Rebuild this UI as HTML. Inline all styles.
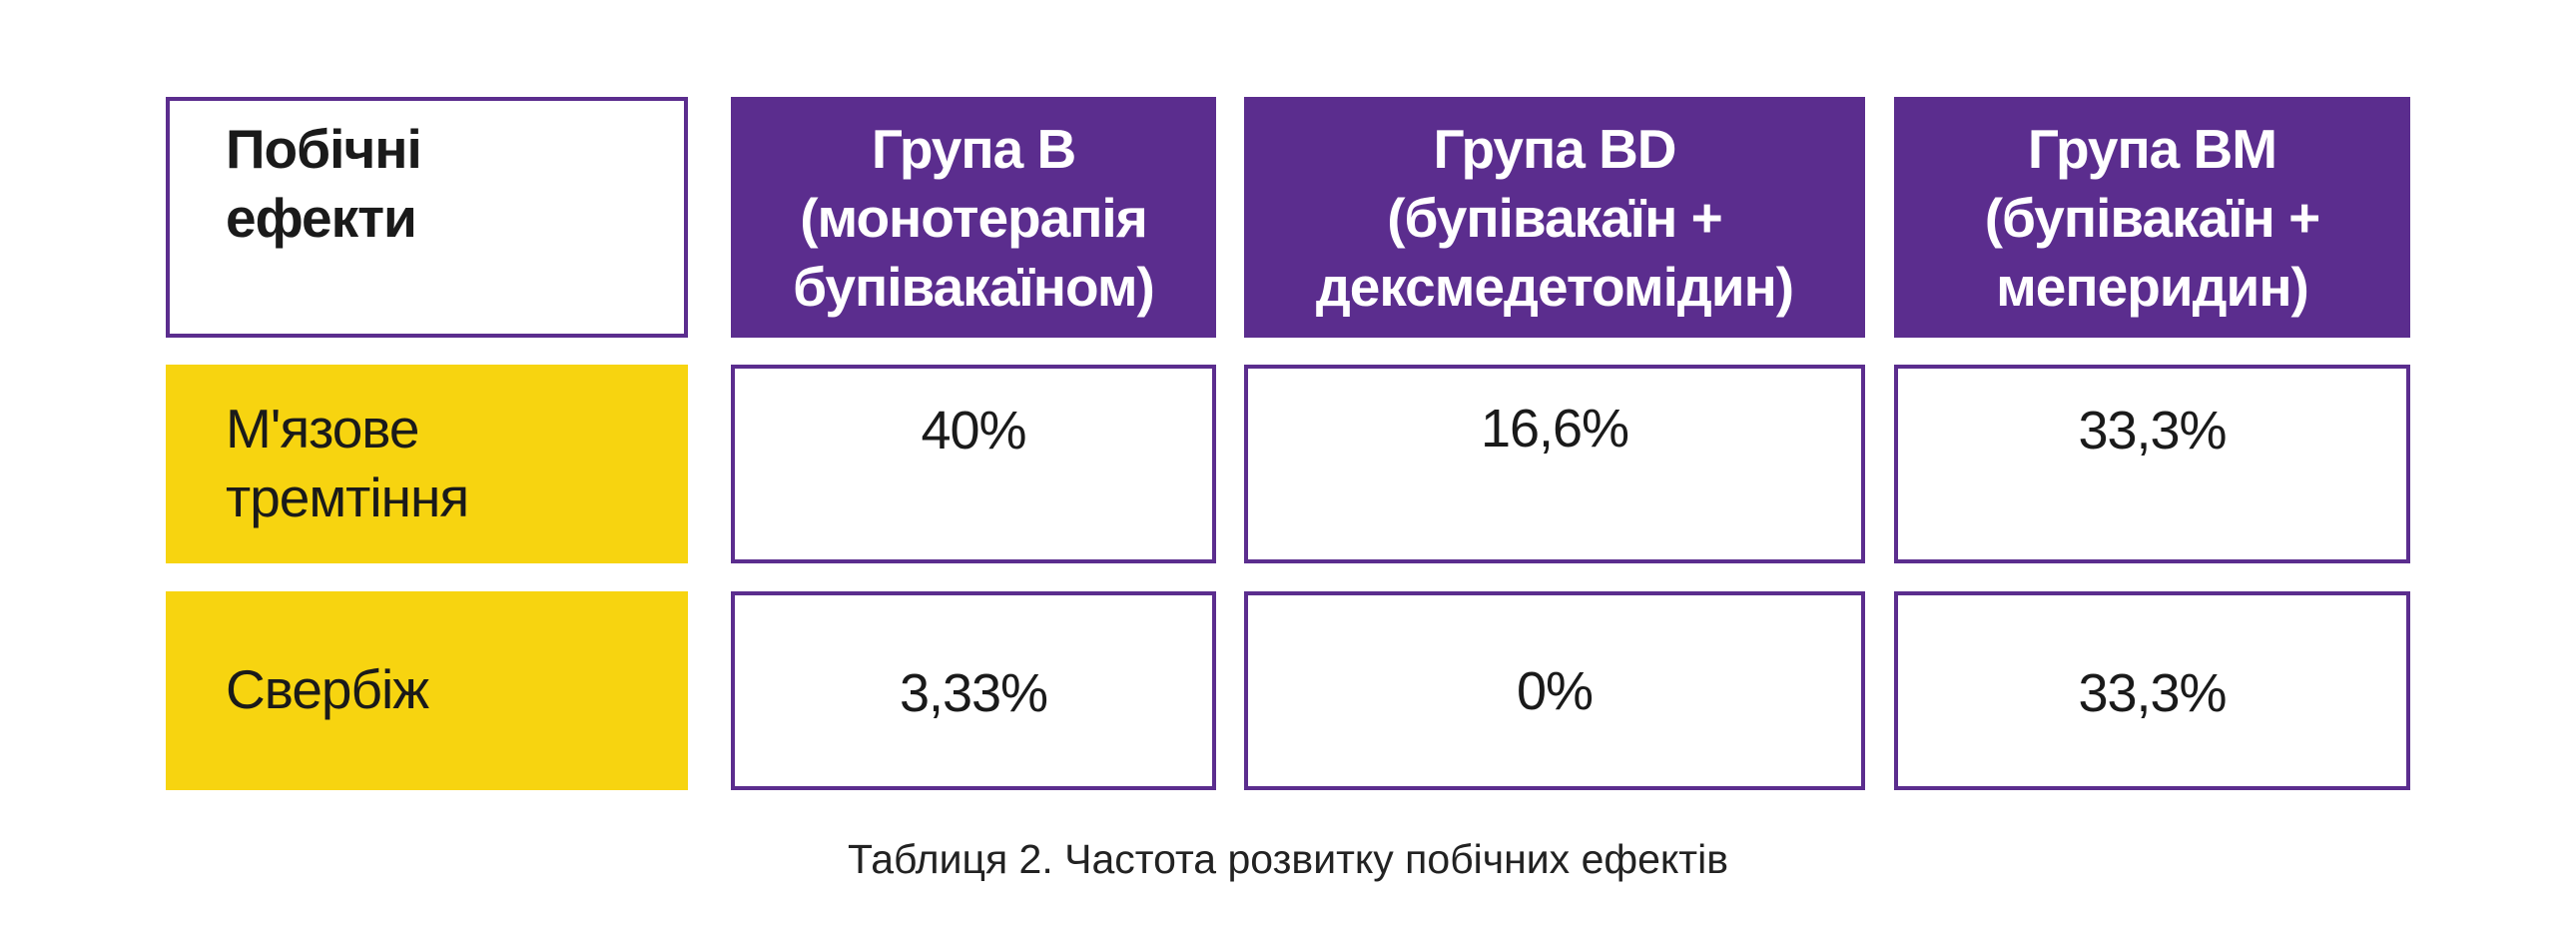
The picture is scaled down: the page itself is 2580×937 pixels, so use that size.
<!DOCTYPE html>
<html><head><meta charset="utf-8"><style>
body{margin:0;width:2580px;height:937px;background:#fff;position:relative;overflow:hidden;font-family:"Liberation Sans","DejaVu Sans",sans-serif;color:#1a1a1a}
.b{position:absolute;box-sizing:border-box}
.w{border:4px solid #5b2d8e;background:#fff}
.p{background:#5b2d8e;color:#fff}
.y{background:#f7d410}
.t{position:absolute;font-size:55px;line-height:69px;letter-spacing:-1px;white-space:nowrap}
.h{font-weight:bold;text-align:center;left:0;right:0}
.v{left:0;right:0;text-align:center;font-size:54px}
</style></head><body>
<div class="b w" style="left:166px;top:97px;width:523px;height:241px"><div class="t" style="font-weight:bold;left:56px;top:14px">Побічні<br>ефекти</div></div>
<div class="b p" style="left:732px;top:97px;width:486px;height:241px"><div class="t h" style="top:18px">Група B<br>(монотерапія<br>бупівакаїном)</div></div>
<div class="b p" style="left:1246px;top:97px;width:622px;height:241px"><div class="t h" style="top:18px">Група BD<br>(бупівакаїн +<br>дексмедетомідин)</div></div>
<div class="b p" style="left:1897px;top:97px;width:517px;height:241px"><div class="t h" style="top:18px">Група BM<br>(бупівакаїн +<br>меперидин)</div></div>

<div class="b y" style="left:166px;top:365px;width:523px;height:199px"><div class="t" style="left:60px;top:30px">М'язове<br>тремтіння</div></div>
<div class="b w" style="left:732px;top:365px;width:486px;height:199px"><div class="t v" style="top:28px">40%</div></div>
<div class="b w" style="left:1246px;top:365px;width:622px;height:199px"><div class="t v" style="top:26px">16,6%</div></div>
<div class="b w" style="left:1897px;top:365px;width:517px;height:199px"><div class="t v" style="top:28px">33,3%</div></div>

<div class="b y" style="left:166px;top:592px;width:523px;height:199px"><div class="t" style="left:60px;top:64px">Свербіж</div></div>
<div class="b w" style="left:732px;top:592px;width:486px;height:199px"><div class="t v" style="top:64px">3,33%</div></div>
<div class="b w" style="left:1246px;top:592px;width:622px;height:199px"><div class="t v" style="top:62px">0%</div></div>
<div class="b w" style="left:1897px;top:592px;width:517px;height:199px"><div class="t v" style="top:64px">33,3%</div></div>

<div class="t" style="left:0;right:0;text-align:center;top:836px;font-size:41px;line-height:48px;letter-spacing:0px;color:#222">Таблиця 2. Частота розвитку побічних ефектів</div>
</body></html>
